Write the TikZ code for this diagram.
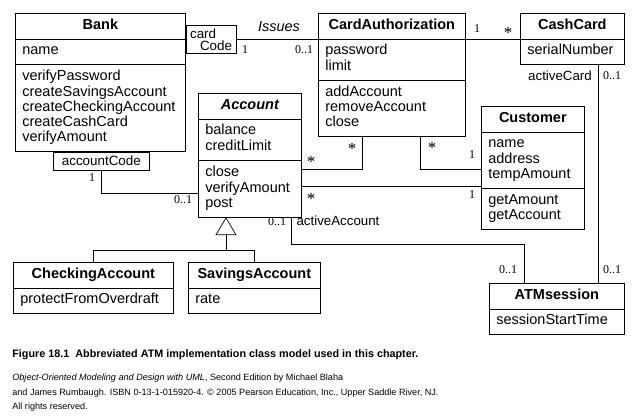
\documentclass[tikz,border=0pt]{standalone}
\usepackage{fontspec}
\setmainfont{Liberation Sans}
\newfontfamily\multfont{Liberation Serif}
\usetikzlibrary{shapes.multipart}

\newcommand\ctitle[1]{{\centering\bfseries #1\strut\par}}

\tikzset{
  classbox/.style={draw, rectangle split, rectangle split parts=#1, anchor=north west,
    align=left, inner xsep=7pt, inner ysep=5pt, font=\fontsize{14.5}{15}\selectfont},
  classbox/.default=3,
  qualbox/.style={draw, inner xsep=4pt, inner ysep=2pt, font=\fontsize{13.4}{12}\selectfont},
  mult/.style={inner sep=0pt, font=\multfont\fontsize{12}{12}\selectfont},
  star/.style={inner sep=0pt, font=\multfont\fontsize{17}{17}\selectfont},
  role/.style={inner sep=0pt, font=\fontsize{13.3}{14}\selectfont}
}

\begin{document}
\begin{tikzpicture}[x=1pt, y=-1pt, line width=0.7pt]
  \useasboundingbox (0,0) rectangle (637,418);

  % classes
  \node[classbox, text width=156pt] (bank) at (15,13) {\ctitle{Bank}
    \nodepart{second} name\strut
    \nodepart{third} \strut verifyPassword\\createSavingsAccount\\createCheckingAccount\\createCashCard\\verifyAmount\strut};
  \node[classbox, text width=133pt] (ca) at (318,13) {\ctitle{CardAuthorization}
    \nodepart{second} \strut password\\limit\strut
    \nodepart{third} \strut addAccount\\removeAccount\\close\strut};
  \node[classbox=2, text width=90pt] (cc) at (520,13) {\ctitle{CashCard}
    \nodepart{second} serialNumber\strut};
  \node[classbox, text width=89pt] (acct) at (198,93) {{\centering\bfseries\itshape Account\strut\par}
    \nodepart{second} \strut balance\\creditLimit\strut
    \nodepart{third} \strut close\\verifyAmount\\post\strut};
  \node[classbox, text width=89pt] (cust) at (481,106) {\ctitle{Customer}
    \nodepart{second} \strut name\\address\\tempAmount\strut
    \nodepart{third} \strut getAmount\\getAccount\strut};
  \node[classbox=2, text width=121pt] (atm) at (489,283) {\ctitle{ATMsession}
    \nodepart{second} sessionStartTime\strut};
  \node[classbox=2, text width=146pt] (chk) at (13,262) {\ctitle{CheckingAccount}
    \nodepart{second} protectFromOverdraft\strut};
  \node[classbox=2, text width=118pt] (sav) at (188,262) {\ctitle{SavingsAccount}
    \nodepart{second} rate\strut};

  % qualifiers
  \node[qualbox, anchor=north west, text width=42pt, minimum height=28pt, align=left]
    (cardcode) at ([yshift=-12pt]bank.north east) {card\\\hspace*{\fill}Code};
  \node[qualbox, anchor=north west, minimum width=96pt, minimum height=18pt]
    (acode) at ([xshift=38pt]bank.south west) {accountCode};

  % associations
  \draw (cardcode.east) -- (ca.west |- cardcode.east);
  \draw (ca.east |- cardcode.east) -- (cc.west |- cardcode.east);
  \draw (acode.south) |- ([yshift=24pt]acct.south west);
  \draw ([yshift=-9pt]acct.second split east) -| ([xshift=44pt]ca.south west);
  \draw ([xshift=-45pt]ca.south east) |- ([yshift=19pt]cust.second split west);
  \draw ([yshift=-26pt]acct.second split east) coordinate (ac) -- (ac -| cust.west);
  \draw ([xshift=-10pt]acct.south east) -- ++(0,27) -| ([xshift=35pt]atm.north west);
  \draw ([xshift=-26pt]cc.south east) -- ([xshift=-26pt]atm.north east);

  % generalization
  \coordinate (gen) at ([xshift=28pt]acct.south west);
  \draw (gen) -- ++(-10,17) -- ++(20,0) -- cycle;
  \draw ([yshift=-17pt]gen) -- ++(0,16) coordinate (hub);
  \draw (chk.north) |- (hub) -| (sav.north);

  % association labels
  \node[font=\itshape\fontsize{14.5}{15}\selectfont, inner sep=0pt] (issues) at (279,27) {Issues};
  \node[mult] (m1) at (245,50) {1};
  \node[mult] (m2) at (304,50) {0..1};
  \node[mult] (m3) at (477,29) {1};
  \node[star] (m4) at (508,33) {*};
  \node[mult] (m5) at (92,178) {1};
  \node[mult] (m6) at (183,200) {0..1};
  \node[star] (m7) at (311,162) {*};
  \node[star] (m8) at (352,149) {*};
  \node[star] (m9) at (432,148) {*};
  \node[mult] (m10) at (472,155) {1};
  \node[star] (m11) at (311,199) {*};
  \node[mult] (m12) at (472,195) {1};
  \node[mult] (m13) at (277,222) {0..1};
  \node[role] (r1) at (338,221) {activeAccount};
  \node[mult] (m14) at (508,270) {0..1};
  \node[role] (r2) at (560,76) {activeCard};
  \node[mult] (m15) at (612,76) {0..1};
  \node[mult] (m16) at (612,270) {0..1};

  % caption
  \node[anchor=north west, inner sep=0pt, font=\bfseries\fontsize{10.8}{12}\selectfont] (caption) at (12,349)
    {Figure 18.1\ \ Abbreviated ATM implementation class model used in this chapter.};
  \node[anchor=north west, inner sep=0pt, align=left, font=\fontsize{9.1}{14.5}\selectfont] (credit) at (12,374)
    {\textit{Object-Oriented Modeling and Design with UML}, Second Edition by Michael Blaha\\
     and James Rumbaugh. ISBN 0-13-1-015920-4. \copyright\ 2005 Pearson Education, Inc., Upper Saddle River, NJ.\\
     All rights reserved.};
\end{tikzpicture}
\end{document}
